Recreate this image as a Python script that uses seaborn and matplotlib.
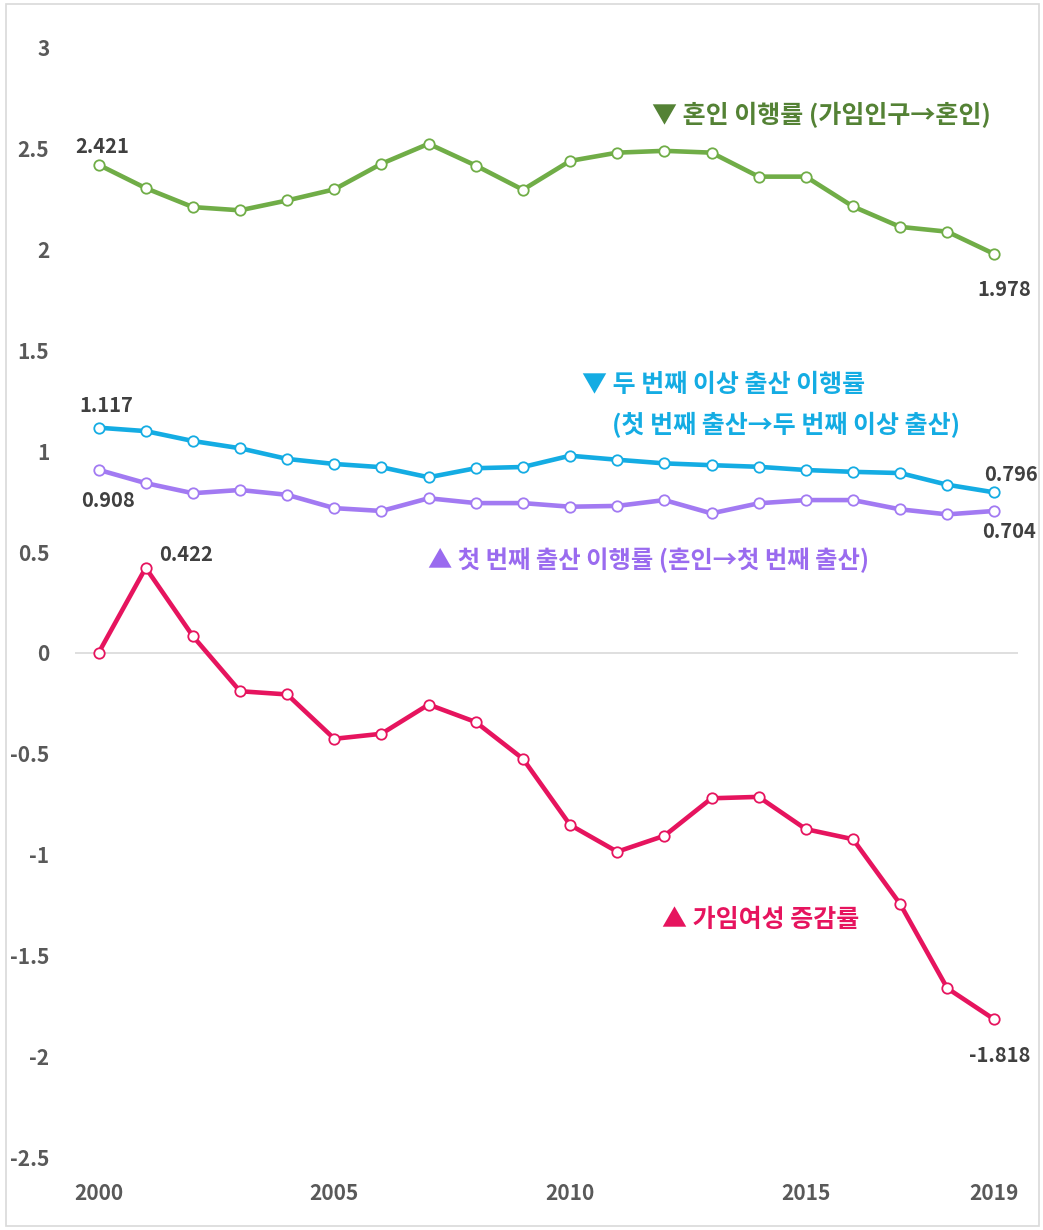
import matplotlib
matplotlib.use("Agg")
import matplotlib.pyplot as plt
import seaborn as sns
from matplotlib.patches import Rectangle

years = list(range(2000, 2020))
marriage = [2.421, 2.305, 2.211, 2.195, 2.244, 2.299, 2.426, 2.525, 2.417, 2.297,
            2.440, 2.481, 2.490, 2.481, 2.362, 2.362, 2.214, 2.113, 2.089, 1.978]
second_birth = [1.117, 1.100, 1.051, 1.015, 0.962, 0.937, 0.921, 0.871, 0.916, 0.922,
                0.978, 0.958, 0.940, 0.931, 0.923, 0.907, 0.898, 0.892, 0.834, 0.796]
first_birth = [0.908, 0.842, 0.792, 0.808, 0.784, 0.718, 0.704, 0.767, 0.743, 0.743,
               0.725, 0.729, 0.758, 0.692, 0.742, 0.758, 0.758, 0.712, 0.687, 0.704]
women = [0.000, 0.422, 0.083, -0.190, -0.206, -0.426, -0.401, -0.256, -0.343, -0.525,
         -0.853, -0.986, -0.907, -0.721, -0.714, -0.874, -0.924, -1.245, -1.663, -1.818]

yticks = [3, 2.5, 2, 1.5, 1, 0.5, 0, -0.5, -1, -1.5, -2, -2.5]
ytick_labels = ["3", "2.5", "2", "1.5", "1", "0.5", "0", "-0.5", "-1", "-1.5", "-2", "-2.5"]
xticks = [2000, 2005, 2010, 2015, 2019]

c_green, c_green_t = "#70AD47", "#548235"
c_cyan = "#14ACE3"
c_purple, c_purple_t = "#A27AF2", "#9A6BEF"
c_pink = "#E6145E"

sns.set_theme(style="white")
plt.rcParams['font.family'] = ['Noto Sans CJK KR', 'DejaVu Sans']

fig = plt.figure(figsize=(10.43, 12.3), dpi=100)
ax = fig.add_axes([75/1043, 1-1157/1230, (1018-75)/1043, (1157-48)/1230])

ax.axhline(0, color="#D9D9D9", lw=1.2, zorder=0)

for vals, col in [(marriage, c_green), (second_birth, c_cyan), (first_birth, c_purple), (women, c_pink)]:
    sns.lineplot(x=years, y=vals, ax=ax, color=col, lw=3.3, marker="o", markersize=7.5,
                 markerfacecolor="white", markeredgecolor=col, markeredgewidth=1.3)

ax.set_xlim(1999.5, 2019.5)
ax.set_ylim(-2.5, 3)
ax.set_yticks(yticks)
ax.set_yticklabels(ytick_labels)
ax.set_xticks(xticks)
ax.set_xticklabels([str(x) for x in xticks])
for s in ax.spines.values():
    s.set_visible(False)
ax.tick_params(axis="y", length=0, pad=18.5, labelsize=15, labelcolor="#595959")
ax.tick_params(axis="x", length=0, pad=19, labelsize=15, labelcolor="#595959")
for lab in ax.get_xticklabels() + ax.get_yticklabels():
    lab.set_fontweight("bold")
ax.set_xlabel("")
ax.set_ylabel("")

lab_kw = dict(fontsize=14.5, fontweight="bold", color="#404040", ha="center", va="center",
              textcoords="offset pixels")
ax.annotate("2.421", (years[0], marriage[0]), xytext=(4, 18), **lab_kw)
ax.annotate("1.978", (years[-1], marriage[-1]), xytext=(10, -35), **lab_kw)
ax.annotate("1.117", (years[0], second_birth[0]), xytext=(8, 22), **lab_kw)
ax.annotate("0.908", (years[0], first_birth[0]), xytext=(9, -31), **lab_kw)
ax.annotate("0.422", (years[1], women[1]), xytext=(40, 13), **lab_kw)
ax.annotate("0.796", (years[-1], second_birth[-1]), xytext=(17, 18), **lab_kw)
ax.annotate("0.704", (years[-1], first_birth[-1]), xytext=(15, -21), **lab_kw)
ax.annotate("-1.818", (years[-1], women[-1]), xytext=(5, -36), **lab_kw)

fig.text(652/1043, 1-115/1230, "▼ 혼인 이행률 (가임인구→혼인)", fontsize=18, fontweight="bold",
         color=c_green_t, ha="left", va="center")
fig.text(582/1043, 1-385/1230, "▼ 두 번째 이상 출산 이행률", fontsize=18, fontweight="bold",
         color=c_cyan, ha="left", va="center")
fig.text(612/1043, 1-425/1230, "(첫 번째 출산→두 번째 이상 출산)", fontsize=18, fontweight="bold",
         color=c_cyan, ha="left", va="center")
fig.text(428/1043, 1-560/1230, "▲ 첫 번째 출산 이행률 (혼인→첫 번째 출산)", fontsize=17.5, fontweight="bold",
         color=c_purple_t, ha="left", va="center")
fig.text(662/1043, 1-920/1230, "▲ 가임여성 증감률", fontsize=18, fontweight="bold",
         color=c_pink, ha="left", va="center")

fig.patches.append(Rectangle((6/1043, 4/1230), 1-10/1043, 1-8/1230, transform=fig.transFigure,
                             fill=False, edgecolor="#D9D9D9", lw=1.2))

fig.savefig("out.png", dpi=100)
